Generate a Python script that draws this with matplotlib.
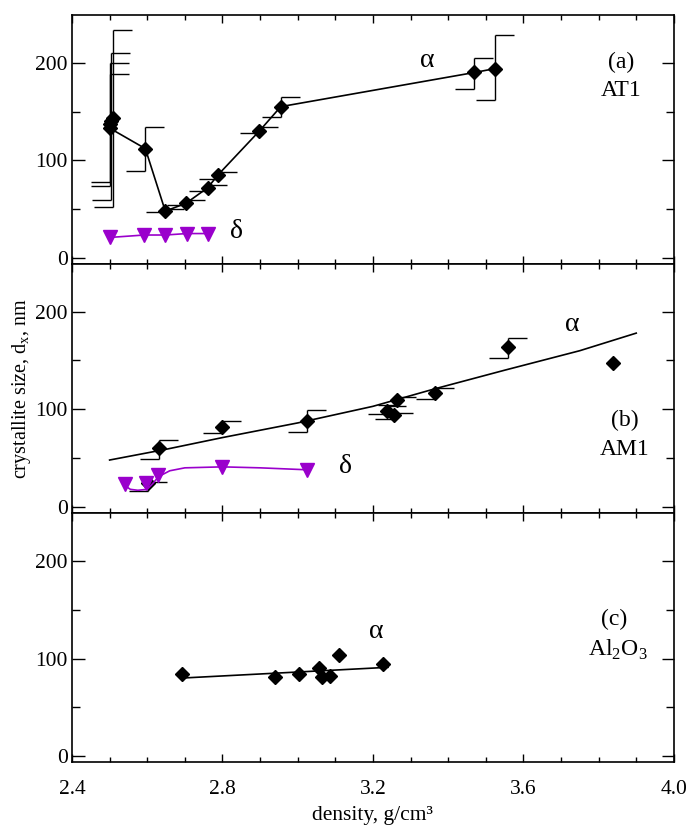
import matplotlib
matplotlib.use("Agg")
import matplotlib.pyplot as plt
from matplotlib.ticker import MultipleLocator

plt.rcParams['font.family'] = ['Liberation Serif', 'DejaVu Serif']
plt.rcParams['mathtext.fontset'] = 'custom'
plt.rcParams['mathtext.rm'] = 'Liberation Serif'

purple = '#9a00cc'
nan = float('nan')

# (a) AT1
a_alpha_x = [2.508, 2.505, 2.502, 2.500, 2.595, 2.648, 2.703, 2.761, 2.788, 2.898, 2.955, 3.470, 3.525]
a_alpha_y = [143, 140, 137, 133, 112, 48, 56, 72, 85, 130, 155, 190, 194]
a_hi = [234, 210, 200, 188, 134, 50, 59, 75, 88, 134, 165, 205, 228]
a_lo = [52, 59, 74, 78, 89, 47, 54, 69, 81, 128, 144, 173, 162]
a_delta_x = [2.500, 2.592, 2.648, 2.705, 2.761]
a_delta_y = [21, 23.5, 23.5, 25, 25]

# (b) AM1
b_alpha_x = [2.603, 2.631, 2.800, 3.025, 3.237, 3.256, 3.264, 3.365, 3.560, 3.839]
b_alpha_y = [24, 60, 82, 88, 98, 94, 109, 117, 164, 147]
b_hi = [26, 69, 88, 99, 103, 96, 113, 122, 173, nan]
b_lo = [16, 49, 76, 77, 95, 90, 104, 111, 153, nan]
b_fit_x = [2.50, 2.65, 2.80, 3.00, 3.20, 3.365, 3.55, 3.75, 3.90]
b_fit_y = [48, 59, 71, 86, 103, 121, 140, 160, 178]
b_delta_x = [2.540, 2.596, 2.629, 2.800, 3.025]
b_delta_y = [23, 24, 33, 41, 38]
b_dcurve_x = [2.540, 2.555, 2.575, 2.600, 2.615, 2.630, 2.660, 2.700, 2.800, 2.900, 3.025]
b_dcurve_y = [22, 18, 17, 18, 24, 31, 37, 40, 41, 40, 38]

# (c) Al2O3
c_alpha_x = [2.693, 2.939, 3.003, 3.056, 3.064, 3.087, 3.110, 3.226]
c_alpha_y = [84, 81, 84, 90, 81, 82, 104, 94]
c_fit_x = [2.693, 3.24]
c_fit_y = [80, 91]

fig = plt.figure(figsize=(6.89, 8.27), dpi=100)
left, width = 0.1045, 0.8735
bottoms = [0.681, 0.380, 0.0786]
h = 0.301
axes = [fig.add_axes([left, b, width, h]) for b in bottoms]

for ax in axes:
    ax.set_xlim(2.4, 4.0)
    ax.set_ylim(-6, 249)
    ax.xaxis.set_major_locator(MultipleLocator(0.4))
    ax.xaxis.set_minor_locator(MultipleLocator(0.1))
    ax.yaxis.set_major_locator(MultipleLocator(100))
    ax.yaxis.set_minor_locator(MultipleLocator(50))
    ax.tick_params(axis='both', which='both', direction='in', top=True, right=True, labelsize=15.5)
    ax.tick_params(axis='y', which='major', length=9, width=1, pad=3)
    ax.tick_params(axis='y', which='minor', length=6, width=1)
    ax.tick_params(axis='x', which='major', length=6, width=1)
    ax.tick_params(axis='x', which='minor', length=3.5, width=1)
    for s in ax.spines.values():
        s.set_linewidth(1.2)
for ax in axes[:2]:
    ax.tick_params(labelbottom=False)


def half_caps(ax, x, y, hi, lo):
    lower = [yy - l for yy, l in zip(y, lo)]
    upper = [hh - yy for yy, hh in zip(y, hi)]
    ax.errorbar(x, y, yerr=[lower, upper], fmt='none', ecolor='black', elinewidth=1, capsize=0, zorder=2)
    ax.plot(x, hi, linestyle='none', marker=1, ms=13.5, mew=1, color='black', zorder=2)
    ax.plot(x, lo, linestyle='none', marker=0, ms=13.5, mew=1, color='black', zorder=2)


# panel (a)
ax = axes[0]
half_caps(ax, a_alpha_x, a_alpha_y, a_hi, a_lo)
ax.plot(a_alpha_x, a_alpha_y, color='black', lw=1.2, marker='D', ms=7.5, zorder=3)
ax.plot(a_delta_x, a_delta_y, color=purple, lw=1.2, marker='v', ms=10, zorder=3)
ax.text(3.344, 202, 'α', fontsize=20, ha='center', va='center')
ax.text(2.836, 27, 'δ', fontsize=20, ha='center', va='center')
ax.text(3.86, 200, '(a)', fontsize=17, ha='center', va='center')
ax.text(3.86, 172, 'AT1', fontsize=17, ha='center', va='center')

# panel (b)
ax = axes[1]
half_caps(ax, b_alpha_x, b_alpha_y, b_hi, b_lo)
ax.plot(b_fit_x, b_fit_y, color='black', lw=1.2, zorder=3)
ax.plot(b_alpha_x, b_alpha_y, linestyle='none', color='black', marker='D', ms=7.5, zorder=3)
ax.plot(b_dcurve_x, b_dcurve_y, color=purple, lw=1.2, zorder=4)
ax.plot(b_delta_x, b_delta_y, linestyle='none', color=purple, marker='v', ms=10, zorder=4)
ax.text(3.73, 187, 'α', fontsize=20, ha='center', va='center')
ax.text(3.126, 41, 'δ', fontsize=20, ha='center', va='center')
ax.text(3.87, 89, '(b)', fontsize=17, ha='center', va='center')
ax.text(3.87, 59, 'AM1', fontsize=17, ha='center', va='center')
ax.set_ylabel(r'crystallite size, d$_\mathregular{x}$, nm', fontsize=14.5, labelpad=2)

# panel (c)
ax = axes[2]
ax.plot(c_fit_x, c_fit_y, color='black', lw=1.2, zorder=3)
ax.plot(c_alpha_x, c_alpha_y, linestyle='none', color='black', marker='D', ms=7.5, zorder=3)
ax.text(3.21, 128, 'α', fontsize=20, ha='center', va='center')
ax.text(3.84, 140, '(c)', fontsize=17, ha='center', va='center')
ax.text(3.85, 109, r'Al$_\mathregular{2}$O$_\mathregular{3}$', fontsize=17, ha='center', va='center')
ax.set_xlabel('density, g/cm³', fontsize=15.5, labelpad=5)
ax.tick_params(axis='x', pad=13)

fig.savefig('out.png', dpi=100)
